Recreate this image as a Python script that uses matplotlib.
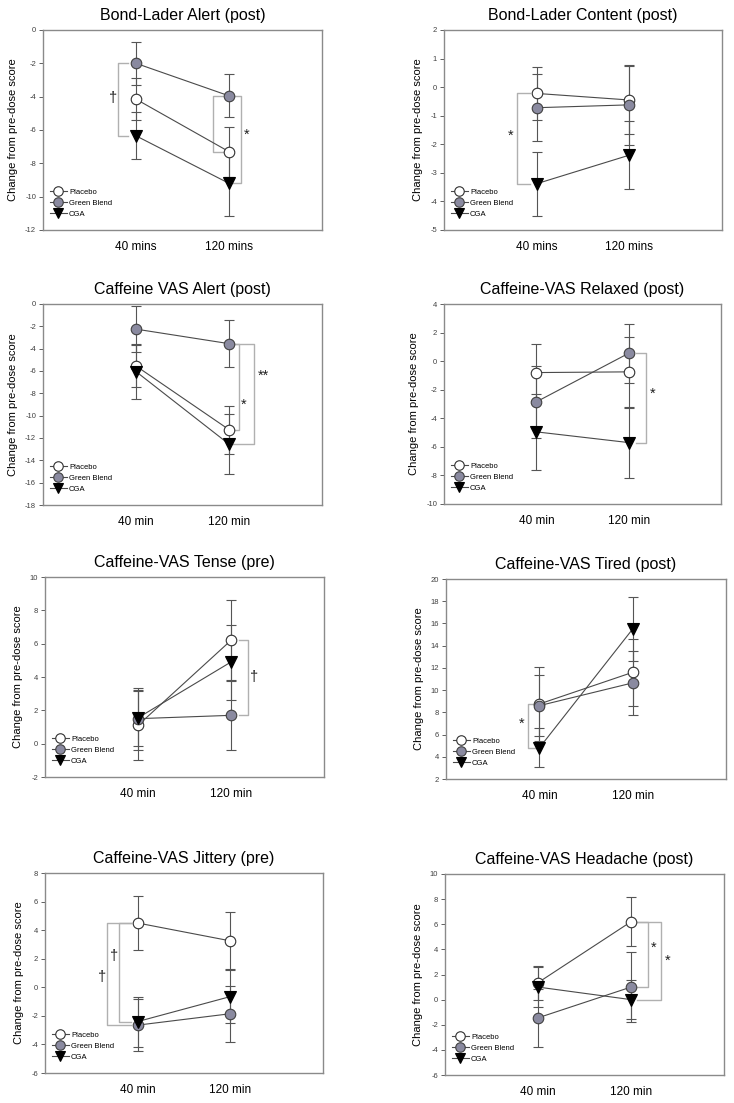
import numpy as np
import matplotlib
matplotlib.use("Agg")
import matplotlib.pyplot as plt

plt.rcParams['font.family'] = ['Liberation Sans', 'DejaVu Sans']
plt.rcParams['axes.unicode_minus'] = False

# --- data -------------------------------------------------------------
series_names = ['Placebo', 'Green Blend', 'CGA']

titles = ['Bond-Lader Alert (post)', 'Bond-Lader Content (post)',
          'Caffeine VAS Alert (post)', 'Caffeine-VAS Relaxed (post)',
          'Caffeine-VAS Tense (pre)', 'Caffeine-VAS Tired (post)',
          'Caffeine-VAS Jittery (pre)', 'Caffeine-VAS Headache (post)']

time_labels_mins = ['40 mins', '120 mins']
time_labels_min = ['40 min', '120 min']

# means [Placebo, Green Blend, CGA] at [40, 120]
placebo_mean = [[-4.15, -7.3], [-0.22, -0.45], [-5.55, -11.25], [-0.8, -0.75],
                [1.1, 6.2], [8.75, 11.6], [4.5, 3.25], [1.35, 6.2]]
green_mean = [[-2.0, -3.95], [-0.72, -0.62], [-2.25, -3.55], [-2.85, 0.55],
              [1.5, 1.7], [8.6, 10.65], [-2.65, -1.85], [-1.45, 1.0]]
cga_mean = [[-6.35, -9.2], [-3.38, -2.38], [-6.05, -12.55], [-4.95, -5.7],
            [1.55, 4.9], [4.8, 15.5], [-2.4, -0.65], [1.0, 0.0]]

# standard errors
placebo_err = [[1.25, 1.5], [0.93, 1.2], [1.9, 2.15], [2.0, 2.45],
               [2.05, 2.4], [3.35, 3.0], [1.9, 2.0], [1.35, 1.95]]
green_err = [[1.3, 1.3], [1.17, 1.4], [2.05, 2.1], [2.5, 2.05],
             [1.85, 2.05], [2.75, 2.85], [1.8, 1.95], [2.3, 2.8]]
cga_err = [[1.4, 1.95], [1.12, 1.18], [2.45, 2.7], [2.65, 2.45],
           [1.7, 2.25], [1.75, 2.85], [1.75, 1.85], [1.6, 1.55]]

y_limits = [(-12, 0), (-5, 2), (-18, 0), (-10, 4),
            (-2, 10), (2, 20), (-6, 8), (-6, 10)]
y_steps = [2, 1, 2, 2, 2, 2, 2, 2]

# significance brackets: (panel, time idx, series a, series b, x vertical, x arm, label, label x, label y)
brackets = [
    (0, 0, 1, 2, 0.81, 0.91, '†', 0.75, -4.1),
    (0, 1, 1, 0, 1.83, 1.94, '', 0, 0),
    (0, 1, 1, 2, 2.13, 2.04, '*', 2.19, -6.3),
    (1, 0, 0, 2, 0.79, 0.93, '*', 0.72, -1.7),
    (2, 1, 1, 0, 2.11, 2.04, '*', 2.16, -9.0),
    (2, 1, 1, 2, 2.27, 2.04, '**', 2.37, -6.4),
    (3, 1, 1, 2, 2.19, 2.08, '*', 2.26, -2.3),
    (4, 1, 0, 1, 2.18, 2.09, '†', 2.25, 4.0),
    (5, 0, 0, 2, 0.88, 0.975, '*', 0.81, 7.0),
    (6, 0, 0, 1, 0.67, 0.93, '†', 0.62, 0.7),
    (6, 0, 0, 2, 0.80, 0.93, '†', 0.745, 2.2),
    (7, 1, 0, 1, 2.18, 2.06, '*', 2.24, 4.1),
    (7, 1, 0, 2, 2.32, 2.06, '*', 2.39, 3.1),
]

# --- layout (pixels: left, top, width, height) -------------------------
W, H = 734, 1103
rects = [(43, 30, 279, 200), (444, 30, 278, 200),
         (43, 304, 279, 201), (444, 304, 277, 200),
         (45, 577, 279, 200), (446, 579, 280, 200),
         (45, 873, 278, 200), (445, 874, 279, 201)]

line_col = '#4a4a4a'
green_col = '#8a8aa0'
bracket_col = '#b0b0b0'

styles = [dict(marker='o', mfc='white', mec='#303030', ms=7.6),
          dict(marker='o', mfc=green_col, mec='#404040', ms=7.6),
          dict(marker='v', mfc='black', mec='black', ms=8.0)]

fig = plt.figure(figsize=(W / 100, H / 100), dpi=100)

x = np.array([1, 2])
for i in range(8):
    l, t, w, h = rects[i]
    ax = fig.add_axes([l / W, 1 - (t + h) / H, w / W, h / H])
    means = [placebo_mean[i], green_mean[i], cga_mean[i]]
    errs = [placebo_err[i], green_err[i], cga_err[i]]
    for k in range(3):
        ax.errorbar(x, means[k], yerr=errs[k], fmt='none', ecolor='#555555',
                    elinewidth=0.8, capsize=3.5, capthick=0.8, zorder=2)
    for k in range(3):
        ax.plot(x, means[k], color=line_col, lw=0.8, label=series_names[k],
                mew=0.8, zorder=3 + k * 0.1, **styles[k])

    for b in brackets:
        if b[0] != i:
            continue
        _, ti, sa, sb, xv, xa, lab, lx, ly = b
        ya, yb = means[sa][ti], means[sb][ti]
        ax.plot([xa, xv, xv, xa], [ya, ya, yb, yb], color=bracket_col, lw=1.0, zorder=1)
        if lab:
            ax.text(lx, ly, lab, ha='center', va='center', fontsize=10.5, color='#202020')

    lo, hi = y_limits[i]
    ax.set_ylim(lo, hi)
    ax.set_yticks(np.arange(lo, hi + 0.01, y_steps[i]))
    ax.set_xlim(0, 3)
    ax.set_xticks(x)
    ax.set_xticklabels(time_labels_mins if i < 2 else time_labels_min, fontsize=8.5)
    ax.tick_params(axis='x', length=0, pad=8)
    ax.tick_params(axis='y', labelsize=5.5, labelcolor='#404040', length=3,
                   width=0.7, color='#606060', pad=2)
    for s in ax.spines.values():
        s.set_color('#8a8a8a')
        s.set_linewidth(1.0)
    ax.set_ylabel('Change from pre-dose score', fontsize=8, labelpad=5)
    ax.set_title(titles[i], fontsize=11.5, pad=7)
    ax.legend(loc='lower left', bbox_to_anchor=(0, 0.025), frameon=False,
              fontsize=5.5, handlelength=2.2, handletextpad=0.3,
              labelspacing=0.5, borderaxespad=0.5, markerscale=0.9)

plt.savefig('out.png', dpi=100)
